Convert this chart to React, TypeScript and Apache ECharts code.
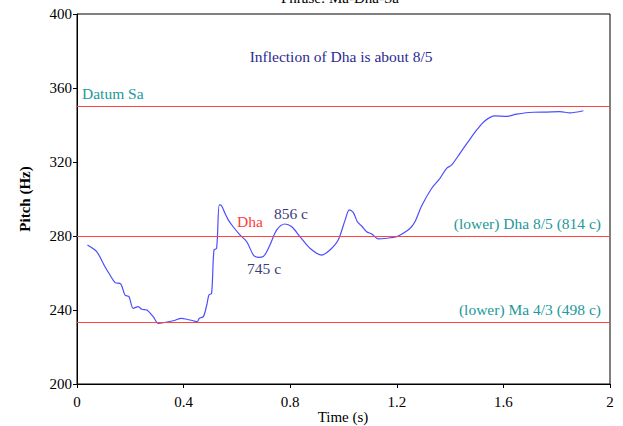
import React, { useEffect, useRef } from "react";
import * as echarts from "echarts";

const times = [0.039, 0.074, 0.105, 0.124, 0.143, 0.164, 0.18, 0.195, 0.211, 0.23, 0.243, 0.262, 0.286, 0.305, 0.324, 0.361, 0.393, 0.412, 0.436, 0.451, 0.459, 0.474, 0.487, 0.495, 0.505, 0.514, 0.524, 0.534, 0.543, 0.555, 0.568, 0.586, 0.612, 0.637, 0.662, 0.68, 0.699, 0.724, 0.749, 0.78, 0.806, 0.837, 0.874, 0.918, 0.949, 0.98, 1.006, 1.022, 1.037, 1.052, 1.068, 1.087, 1.106, 1.131, 1.162, 1.2, 1.224, 1.25, 1.268, 1.293, 1.331, 1.362, 1.387, 1.406, 1.437, 1.468, 1.5, 1.531, 1.568, 1.612, 1.65, 1.712, 1.762, 1.812, 1.85, 1.9];
const pitch = [275.1, 271.5, 263.4, 258.9, 254.8, 254.1, 248.1, 247.2, 240.9, 241.8, 240.4, 240.0, 236.4, 232.8, 233.1, 234.2, 235.5, 235.0, 234.2, 233.7, 235.5, 236.4, 242.7, 248.1, 249.0, 272.4, 273.4, 296.8, 296.2, 292.3, 288.6, 285.0, 280.5, 276.9, 269.7, 268.5, 268.9, 275.1, 283.2, 286.5, 285.0, 279.6, 273.4, 269.7, 272.4, 277.8, 288.6, 294.1, 292.6, 287.7, 285.4, 282.3, 281.1, 278.4, 278.8, 279.7, 281.5, 284.2, 287.7, 296.2, 305.8, 311.2, 316.6, 318.4, 324.7, 331.0, 337.3, 342.3, 344.9, 344.7, 345.9, 346.9, 347.0, 347.2, 346.6, 347.7];

const refValues = [350, 280, 350 * 2 / 3];
const refLabels = ["Datum Sa", "(lower) Dha 8/5 (814 c)", "(lower) Ma 4/3 (498 c)"];

const noteTexts = ["Inflection of Dha is about 8/5", "Dha", "856 c", "745 c"];
const noteTimes = [0.991, 0.649, 0.803, 0.702];
const notePitch = [376.8, 287.6, 292.4, 262.7];
const noteColors = ["#2b2b8f", "#ff3b3b", "#3b3b78", "#3b3b78"];

const xTicks = [0, 0.4, 0.8, 1.2, 1.6, 2];
const yTicks = [200, 240, 280, 320, 360, 400];

const FONT = "Liberation Serif";

export default function App() {
  const ref = useRef<HTMLDivElement>(null);
  useEffect(() => {
    const chart = echarts.init(ref.current!, null, { renderer: "svg" });
    chart.setOption({
      animation: false,
      backgroundColor: "#ffffff",
      textStyle: { fontFamily: FONT },
      grid: { left: 77, right: 13, top: 14, bottom: 42, containLabel: false, outerBoundsMode: "none", show: true, borderColor: "#000", borderWidth: 1, backgroundColor: "transparent" },
      graphic: [
        {
          type: "text",
          left: 281,
          top: -10,
          style: { text: "Phrase: Ma-Dha-Sa", fontFamily: FONT, fontSize: 15, fill: "#000" },
        },
        {
          type: "text",
          x: 343,
          y: 417,
          style: { text: "Time (s)", fontFamily: FONT, fontSize: 15, fill: "#000", textAlign: "center", textVerticalAlign: "middle" },
        },
      ],
      xAxis: {
        type: "value",
        min: 0,
        max: 2,
        interval: 0.4,
        axisLine: { lineStyle: { color: "#000" } },
        axisTick: { show: true, length: 4, lineStyle: { color: "#000" } },
        axisLabel: { fontFamily: FONT, fontSize: 15, color: "#000", margin: 10, formatter: (v: number) => (xTicks.includes(+v.toFixed(1)) ? String(+v.toFixed(1)) : "") },
        splitLine: { show: false },
      },
      yAxis: {
        type: "value",
        min: 200,
        max: 400,
        interval: 40,
        name: "Pitch (Hz)",
        nameLocation: "middle",
        nameGap: 45,
        nameTextStyle: { fontFamily: FONT, fontSize: 15, fontWeight: "bold", color: "#000" },
        axisLine: { show: true, lineStyle: { color: "#000" } },
        axisTick: { show: true, length: 4, lineStyle: { color: "#000" } },
        axisLabel: { fontFamily: FONT, fontSize: 15, color: "#000", margin: 5, formatter: (v: number) => (yTicks.includes(v) ? String(v) : "") },
        splitLine: { show: false },
      },
      series: [
        {
          type: "line",
          data: times.map((t, i) => [t, pitch[i]]),
          showSymbol: false,
          symbol: "none",
          smooth: 0.3,
          lineStyle: { color: "#4d4dff", width: 1.2 },
          z: 3,
          markLine: {
            silent: true,
            symbol: ["none", "none"],
            lineStyle: { color: "#ff4444", width: 1, type: "solid" },
            data: refValues.map((v, i) => ({
              yAxis: v,
              label: {
                show: true,
                formatter: refLabels[i],
                position: i === 0 ? "insideStartTop" : "insideEndTop",
                distance: [i === 0 ? 5 : 9, 5],
                color: "#229999",
                fontFamily: FONT,
                fontSize: 15.5,
              },
            })),
          },
          markPoint: {
            silent: true,
            symbol: "circle",
            symbolSize: 0,
            data: noteTexts.map((s, i) => ({
              coord: [noteTimes[i], notePitch[i]],
              label: { show: true, position: "inside", formatter: s, color: noteColors[i], fontFamily: FONT, fontSize: 15.5 },
            })),
          },
        },
      ],
    });
    return () => chart.dispose();
  }, []);
  return <div ref={ref} style={{ position: "fixed", left: 0, top: 0, width: 623, height: 426 }} />;
}
